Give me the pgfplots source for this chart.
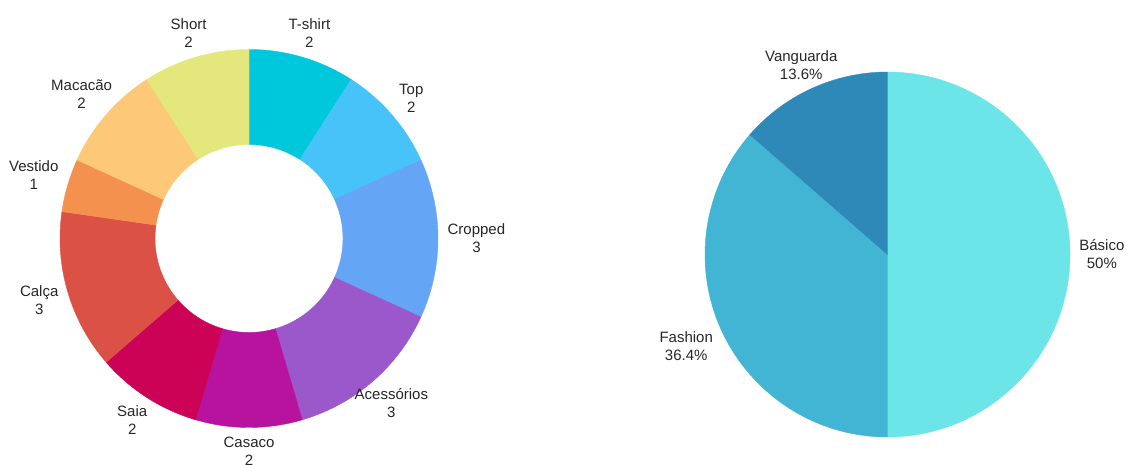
\documentclass[border=0pt]{standalone}
\usepackage{pgfplots}
\pgfplotsset{compat=1.18}
\usepackage{pgfplotstable}
\usepackage{fontspec}
\setmainfont{Liberation Sans}

\definecolor{cTshirt}{HTML}{00C8DC}
\definecolor{cTop}{HTML}{48C3F9}
\definecolor{cCropped}{HTML}{64A5F5}
\definecolor{cAcess}{HTML}{9B58CA}
\definecolor{cCasaco}{HTML}{B8139F}
\definecolor{cSaia}{HTML}{CC0256}
\definecolor{cCalca}{HTML}{DC5145}
\definecolor{cVestido}{HTML}{F4914F}
\definecolor{cMacacao}{HTML}{FDC878}
\definecolor{cShort}{HTML}{E4E87C}
\definecolor{cBasico}{HTML}{6CE5E8}
\definecolor{cFashion}{HTML}{42B5D4}
\definecolor{cVanguarda}{HTML}{2E89B8}

\pgfplotstableread[col sep=comma]{
label,value,color
T-shirt,2,cTshirt
Top,2,cTop
Cropped,3,cCropped
Acessórios,3,cAcess
Casaco,2,cCasaco
Saia,2,cSaia
Calça,3,cCalca
Vestido,1,cVestido
Macacão,2,cMacacao
Short,2,cShort
}\donutdata

\pgfplotstableread[col sep=comma]{
label,value,color
Básico,50,cBasico
Fashion,36.4,cFashion
Vanguarda,13.6,cVanguarda
}\piedata

% #1 table, #2 cx, #3 cy, #4 outer radius, #5 inner radius, #6 value suffix
\newcommand\piechart[6]{%
  \pgfplotstablegetrowsof{#1}\pgfmathtruncatemacro\lastrow{\pgfplotsretval-1}%
  \def\pietotal{0}%
  \pgfplotsforeachungrouped \i in {0,...,\lastrow}{%
    \pgfplotstablegetelem{\i}{value}\of{#1}%
    \pgfmathsetmacro\pietotal{\pietotal+\pgfplotsretval}}%
  \def\piecum{0}%
  \pgfplotsforeachungrouped \i in {0,...,\lastrow}{%
    \pgfplotstablegetelem{\i}{value}\of{#1}\let\pv\pgfplotsretval
    \pgfplotstablegetelem{\i}{color}\of{#1}\let\pc\pgfplotsretval
    \pgfplotstablegetelem{\i}{label}\of{#1}\let\pl\pgfplotsretval
    \pgfmathsetmacro\aS{90-360*(\piecum/\pietotal)}%
    \pgfmathsetmacro\piecum{\piecum+\pv}%
    \pgfmathsetmacro\aE{90-360*(\piecum/\pietotal)}%
    \pgfmathsetmacro\aM{(\aS+\aE)/2}%
    \pgfmathsetmacro\xo{#2+#4*cos(\aS)}\pgfmathsetmacro\yo{#3+#4*sin(\aS)}%
    \pgfmathsetmacro\xi{#2+#5*cos(\aE)}\pgfmathsetmacro\yi{#3+#5*sin(\aE)}%
    \pgfmathsetmacro\xl{#2+1.05*#4*cos(\aM)}\pgfmathsetmacro\yl{#3+1.05*#4*sin(\aM)}%
    \pgfmathsetmacro\an{\aM+180}%
    \ifdim #5pt>0pt
      \edef\cmd{\noexpand\fill[\pc,draw=\pc,line width=0.4pt] (axis cs:\xo,\yo) arc[start angle=\aS,end angle=\aE,radius=#4] -- (axis cs:\xi,\yi) arc[start angle=\aE,end angle=\aS,radius=#5] -- cycle;}%
    \else
      \edef\cmd{\noexpand\fill[\pc,draw=\pc,line width=0.4pt] (axis cs:#2,#3) -- (axis cs:\xo,\yo) arc[start angle=\aS,end angle=\aE,radius=#4] -- cycle;}%
    \fi
    \cmd
    \edef\cmd{\noexpand\node[anchor=\an,align=center,inner sep=0pt] at (axis cs:\xl,\yl) {\pl\noexpand\\\pv\unexpanded{#6}};}%
    \cmd
  }}

\begin{document}
\begin{tikzpicture}[every node/.append style={font=\fontsize{15pt}{18pt}\selectfont, text=black!85}]
\begin{axis}[
  at={(0,0)}, anchor=south west,
  width=1127pt, height=465pt, scale only axis,
  xmin=0, xmax=1127, ymin=0, ymax=465,
  hide axis, clip=false,
]
\piechart{\donutdata}{249}{226.5}{189}{94}{}
\piechart{\piedata}{887.5}{210.5}{182.5}{0}{\%}
\end{axis}
\pgfresetboundingbox
\path[use as bounding box] (0,0) rectangle (1127pt,465pt);
\end{tikzpicture}
\end{document}
